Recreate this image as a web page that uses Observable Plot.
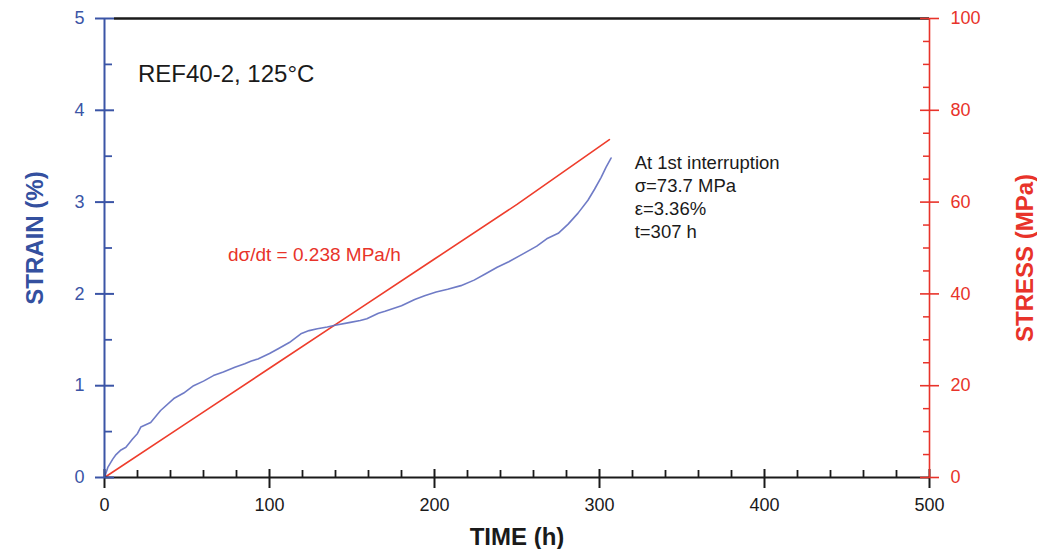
<!DOCTYPE html>
<html><head><meta charset="utf-8">
<script src="https://cdn.jsdelivr.net/npm/d3@7"></script>
<script src="https://cdn.jsdelivr.net/npm/@observablehq/plot@0.6"></script>
<style>body{margin:0;background:#fff} #chart svg{display:block}</style>
</head><body><div id="chart"></div>
<script>
// Strain curve (time h, strain %)
const strainTime = [0, 2, 5, 7, 10, 13, 17, 20, 22, 28, 34, 42, 48, 54, 60, 66, 72, 79, 85, 89, 93, 100, 105, 112, 119, 124, 129, 135, 139, 149, 155, 159, 166, 170, 180, 188, 194, 201, 208, 216, 224, 231, 238, 245, 252, 262, 268, 275, 281, 287, 293, 297, 301, 304, 307];
const strainPct  = [0, 0.11, 0.2, 0.25, 0.3, 0.33, 0.42, 0.48, 0.55, 0.60, 0.73, 0.86, 0.92, 1.00, 1.05, 1.11, 1.15, 1.20, 1.24, 1.27, 1.29, 1.35, 1.40, 1.47, 1.565, 1.60, 1.62, 1.64, 1.655, 1.69, 1.71, 1.73, 1.79, 1.81, 1.87, 1.94, 1.98, 2.02, 2.05, 2.09, 2.15, 2.22, 2.29, 2.35, 2.42, 2.52, 2.60, 2.66, 2.76, 2.88, 3.02, 3.14, 3.27, 3.38, 3.48];
// Stress ramp (time h, stress MPa)
const stressTime = [0, 50, 100, 150, 200, 250, 306];
const stressMPa  = [0, 11.9, 23.8, 35.7, 47.6, 59.5, 73.6];

const timeMajor = [0, 100, 200, 300, 400, 500];
const timeMinor = [20, 40, 60, 80, 120, 140, 160, 180, 220, 240, 260, 280, 320, 340, 360, 380, 420, 440, 460, 480];
const strainMajor = [0, 1, 2, 3, 4, 5];
const strainMinor = [0.5, 1.5, 2.5, 3.5, 4.5];
const stressMajor = [0, 20, 40, 60, 80, 100];
const stressMinor = [5, 10, 15, 25, 30, 35, 45, 50, 55, 65, 70, 75, 85, 90, 95];

const titleText = "REF40-2, 125°C";
const rateText = "dσ/dt = 0.238 MPa/h";
const noteText = "At 1st interruption\nσ=73.7 MPa\nε=3.36%\nt=307 h";

const BLUE = "#3b55a6", RED = "#e8332a", BLACK = "#1a1a1a";
const toStrain = s => s / 20; // 0–100 MPa shares the 0–5 % vertical scale

const strainData = strainTime.map((t, i) => ({t, v: strainPct[i]}));
const stressData = stressTime.map((t, i) => ({t, s: stressMPa[i]}));

const chart = Plot.plot({
  width: 1037, height: 549,
  marginLeft: 104, marginRight: 108, marginTop: 18, marginBottom: 72,
  style: {fontFamily: "'Liberation Sans', Arial, sans-serif", fontSize: "18px", background: "#fff"},
  x: {domain: [0, 500], axis: null},
  y: {domain: [0, 5], axis: null},
  marks: [
    Plot.line(stressData, {x: "t", y: d => toStrain(d.s), stroke: "#ee3d2c", strokeWidth: 1.6}),
    Plot.line(strainData, {x: "t", y: "v", stroke: "#5f6dc0", strokeWidth: 1.6, strokeOpacity: 0.9}),
    // frame top and bottom
    Plot.ruleY([5], {x1: 0, x2: 500, insetLeft: 10, stroke: BLACK, strokeWidth: 2.5}),
    Plot.ruleY([0], {x1: 0, x2: 500, stroke: BLACK, strokeWidth: 2}),
    // x ticks
    Plot.ruleX(timeMajor, {y1: 0, y2: 0, insetTop: -8, insetBottom: -11, stroke: BLACK, strokeWidth: 2}),
    Plot.ruleX(timeMinor, {y1: 0, y2: 0, insetTop: -7, stroke: BLACK, strokeWidth: 1.8}),
    // left axis
    Plot.ruleX([0], {y1: 0, y2: 5, stroke: BLUE, strokeWidth: 2}),
    Plot.ruleY(strainMajor, {x1: 0, x2: 0, insetLeft: -9, insetRight: -10, stroke: BLUE, strokeWidth: 2}),
    Plot.ruleY(strainMinor, {x1: 0, x2: 0, insetRight: -8, stroke: BLUE, strokeWidth: 1.8}),
    // right axis
    Plot.ruleX([500], {y1: 0, y2: 5, stroke: RED, strokeWidth: 1.6}),
    Plot.ruleY(stressMajor, {y: toStrain, x1: 500, x2: 500, insetLeft: -9, insetRight: -10, stroke: RED, strokeWidth: 1.6}),
    Plot.ruleY(stressMinor, {y: toStrain, x1: 500, x2: 500, insetLeft: -6, stroke: RED, strokeWidth: 1.5}),
    // tick labels
    Plot.axisX(timeMajor, {tickSize: 0, tickPadding: 21, fontSize: 18, color: BLACK, label: null, tickFormat: d => String(d)}),
    Plot.axisY(strainMajor, {anchor: "left", tickSize: 0, tickPadding: 20, fontSize: 18, color: BLUE, label: null, tickFormat: d => String(d)}),
    Plot.axisY(stressMajor.map(toStrain), {anchor: "right", tickSize: 0, tickPadding: 21, fontSize: 18, color: RED, label: null, tickFormat: v => String(Math.round(v * 20))}),
    // axis titles
    Plot.text(["STRAIN (%)"], {frameAnchor: "left", textAnchor: "middle", lineAnchor: "middle", dx: -69, dy: -10, rotate: -90, fontSize: 24, fontWeight: "bold", fill: "#34509f"}),
    Plot.text(["STRESS (MPa)"], {frameAnchor: "right", textAnchor: "middle", lineAnchor: "middle", dx: 96, dy: 10, rotate: -90, fontSize: 24, fontWeight: "bold", fill: RED}),
    Plot.text(["TIME (h)"], {frameAnchor: "bottom", textAnchor: "middle", lineAnchor: "middle", dy: 60, fontSize: 24, fontWeight: "bold", fill: BLACK}),
    // annotations
    Plot.text([titleText], {x: 20.3, y: 4.39, textAnchor: "start", fontSize: 24, fill: BLACK}),
    Plot.text([rateText], {x: 74.8, y: 2.42, textAnchor: "start", fontSize: 19, fill: RED}),
    Plot.text([noteText], {x: 321.3, y: 3.54, textAnchor: "start", lineAnchor: "top", lineHeight: 1.25, fontSize: 18.5, fill: BLACK})
  ]
});
document.getElementById("chart").appendChild(chart);
</script>
</body></html>
